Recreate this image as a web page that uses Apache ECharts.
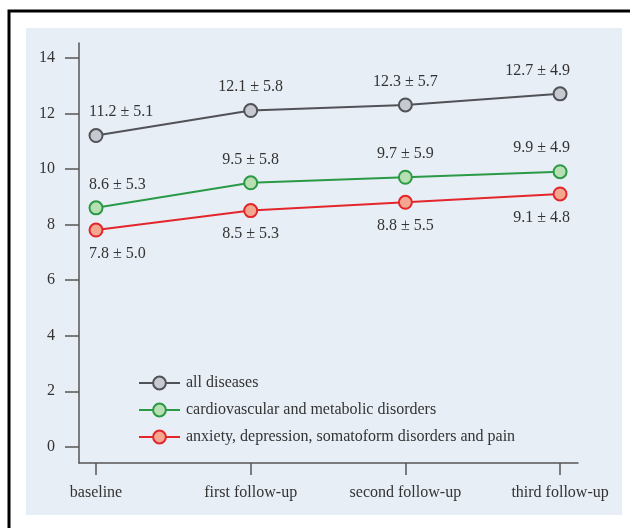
<!DOCTYPE html>
<html>
<head>
<meta charset="utf-8">
<script src="https://cdn.jsdelivr.net/npm/echarts@6/dist/echarts.min.js"></script>
<style>html,body{margin:0;padding:0;background:#fff;}#c{width:630px;height:528px;}</style>
</head>
<body>
<div id="c"></div>
<script>
const categories = ['baseline', 'first follow-up', 'second follow-up', 'third follow-up'];
const seriesNames = ['all diseases', 'cardiovascular and metabolic disorders', 'anxiety, depression, somatoform disorders and pain'];
const allMean = [11.2, 12.1, 12.3, 12.7];
const allSd = [5.1, 5.8, 5.7, 4.9];
const cardioMean = [8.6, 9.5, 9.7, 9.9];
const cardioSd = [5.3, 5.8, 5.9, 4.9];
const anxMean = [7.8, 8.5, 8.8, 9.1];
const anxSd = [5.0, 5.3, 5.5, 4.8];
const yTicks = [0, 2, 4, 6, 8, 10, 12, 14];

const FONT = 'Liberation Serif';
function mkData(mean, sd, pos) {
  return mean.map((v, i) => {
    const lab = { position: pos, distance: 8, align: 'center' };
    if (i === 0) { lab.align = 'left'; lab.offset = [-7, 0]; }
    if (i === mean.length - 1) { lab.align = 'right'; lab.offset = [10, 0]; }
    return { value: [i, v], sd: sd[i], label: lab };
  });
}
function mkSeries(name, mean, sd, pos, line, fill) {
  return {
    name, type: 'line', data: mkData(mean, sd, pos),
    symbol: 'circle', symbolSize: 13,
    lineStyle: { color: line, width: 2 },
    itemStyle: { color: fill, borderColor: line, borderWidth: 2 },
    label: {
      show: true, fontFamily: FONT, fontSize: 16, color: '#333',
      formatter: p => p.value[1].toFixed(1) + ' \u00b1 ' + p.data.sd.toFixed(1)
    },
    emphasis: { disabled: true }, animation: false, z: 3
  };
}
const chart = echarts.init(document.getElementById('c'), null, { renderer: 'canvas' });
chart.setOption({
  backgroundColor: '#ffffff',
  animation: false,
  graphic: [
    { type: 'rect', shape: { x: 9, y: 11, width: 660, height: 560 }, style: { fill: '#ffffff', stroke: '#000', lineWidth: 3 }, z: -10, silent: true },
    { type: 'rect', shape: { x: 26, y: 28, width: 596, height: 487 }, style: { fill: '#e8eef6' }, z: -9, silent: true }
  ],
  grid: { left: 79, right: 52, top: 43, bottom: 65, containLabel: false },
  xAxis: {
    type: 'value', min: -0.11, max: 3.116,
    splitLine: { show: false },
    axisLine: { show: true, onZero: false, lineStyle: { color: '#555', width: 1.5 } },
    axisTick: { show: true, length: 12, customValues: [0, 1, 2, 3], lineStyle: { color: '#555', width: 1.5 } },
    axisLabel: { customValues: [0, 1, 2, 3], margin: 22, fontFamily: FONT, fontSize: 16, color: '#333',
      formatter: v => categories[Math.round(v)] }
  },
  yAxis: {
    type: 'value', min: -0.58, max: 14.53,
    splitLine: { show: false },
    axisLine: { show: true, onZero: false, lineStyle: { color: '#555', width: 1.5 } },
    axisTick: { show: true, length: 14, customValues: yTicks, lineStyle: { color: '#555', width: 1.5 } },
    axisLabel: { customValues: yTicks, margin: 24, fontFamily: FONT, fontSize: 16, color: '#333' }
  },
  legend: {
    orient: 'vertical', left: 133, top: 370,
    itemWidth: 41, itemHeight: 16, itemGap: 11,
    textStyle: { fontFamily: FONT, fontSize: 16, lineHeight: 14, color: '#333', padding: [0, 0, 0, 1] },
    data: seriesNames
  },
  series: [
    mkSeries(seriesNames[0], allMean, allSd, 'top', '#505257', '#c6c9cf'),
    mkSeries(seriesNames[1], cardioMean, cardioSd, 'top', '#2a9a47', '#b8dfb2'),
    mkSeries(seriesNames[2], anxMean, anxSd, 'bottom', '#e3262b', '#f3a78f')
  ]
});
</script>
</body>
</html>
